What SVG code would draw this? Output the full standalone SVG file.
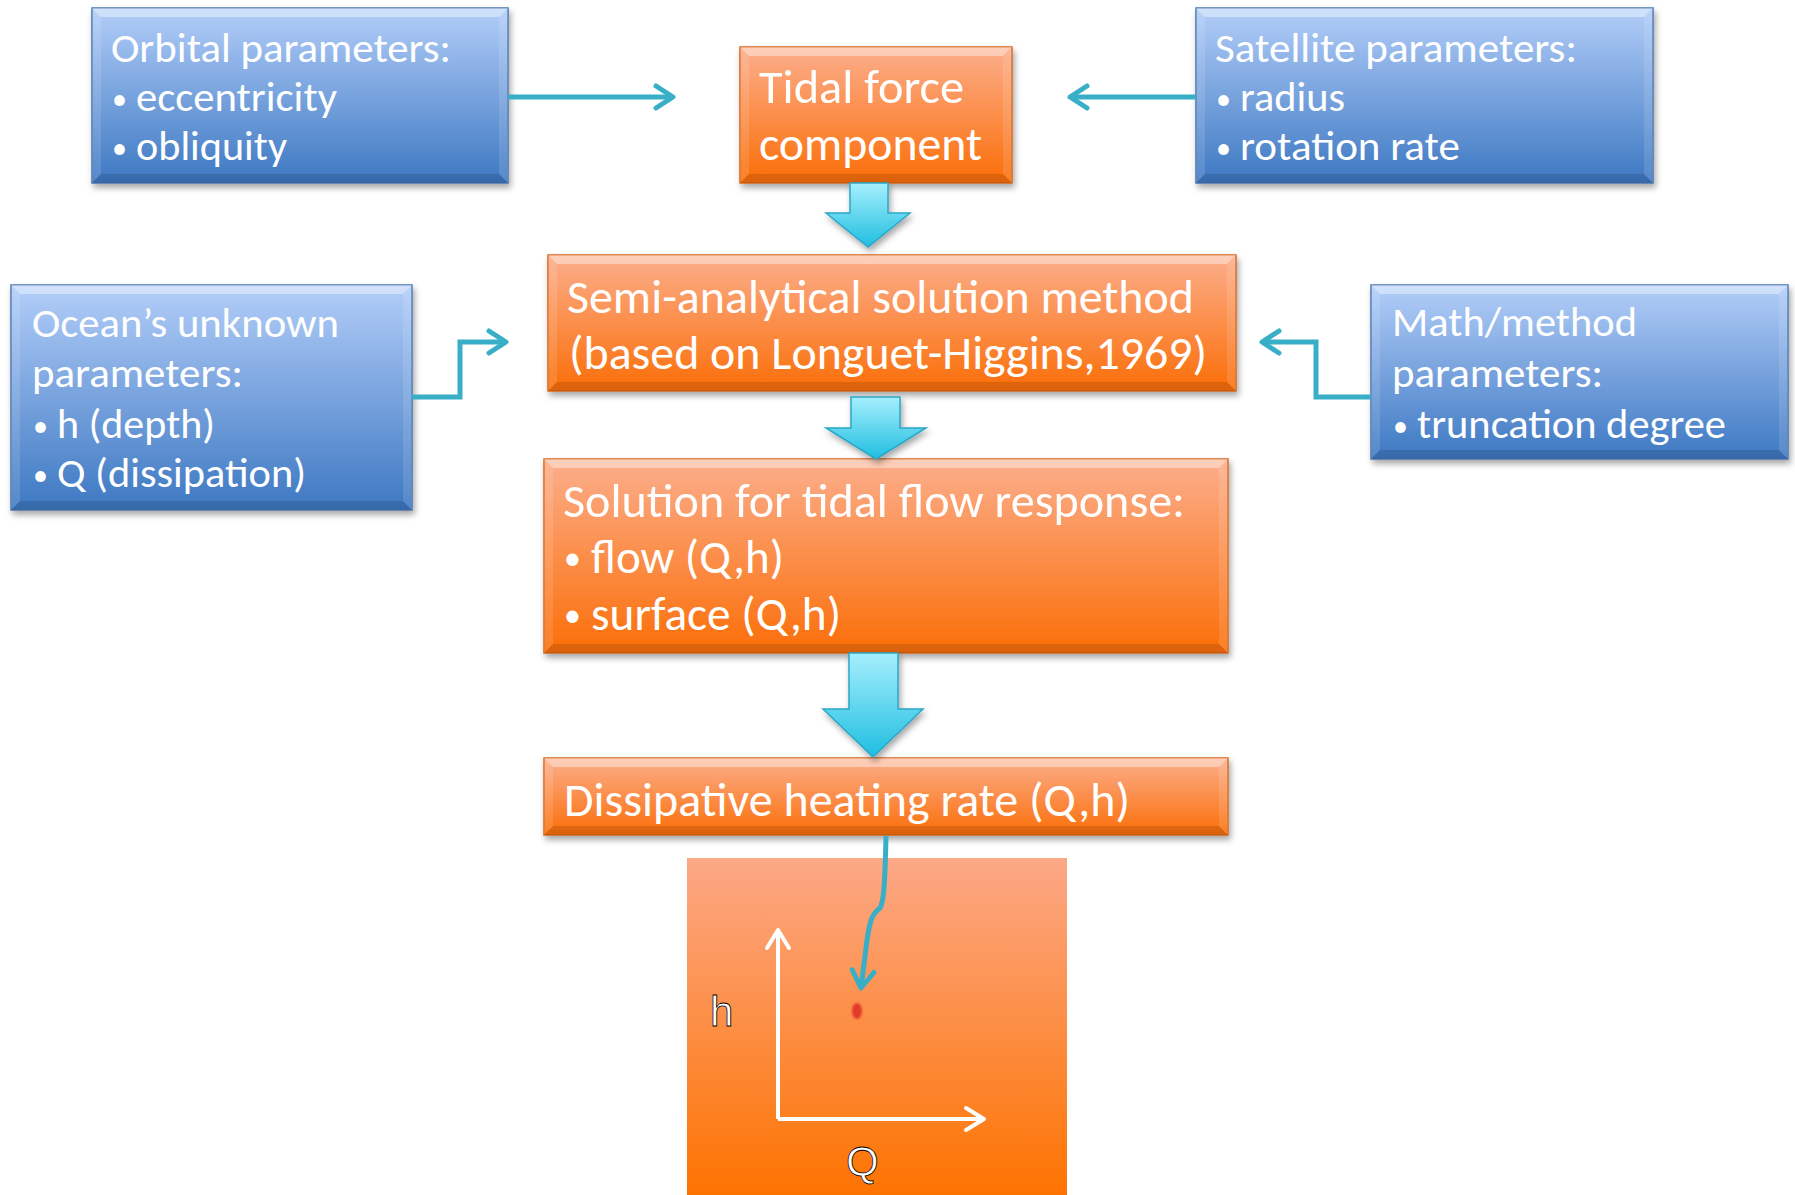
<svg xmlns="http://www.w3.org/2000/svg" width="1795" height="1195" viewBox="0 0 1795 1195">
<defs>
<linearGradient id="gBlue" x1="0" y1="0" x2="0" y2="1"><stop offset="0" stop-color="#b3cef9"/><stop offset="1" stop-color="#3d78c2"/></linearGradient>
<linearGradient id="gOrange" x1="0" y1="0" x2="0" y2="1"><stop offset="0" stop-color="#fcae8c"/><stop offset="1" stop-color="#fb6e08"/></linearGradient>
<linearGradient id="gPlot" x1="0" y1="0" x2="0" y2="1"><stop offset="0" stop-color="#fca887"/><stop offset="1" stop-color="#fd7300"/></linearGradient>
<linearGradient id="gCyan" x1="0" y1="0" x2="0" y2="1"><stop offset="0" stop-color="#a6effd"/><stop offset="1" stop-color="#1fbee0"/></linearGradient>
<filter id="shadow" x="-10%" y="-10%" width="125%" height="130%"><feDropShadow dx="2" dy="4" stdDeviation="3" flood-color="#000" flood-opacity="0.35"/></filter>
<filter id="blurDot"><feGaussianBlur stdDeviation="1.2"/></filter>
<marker id="mTeal" markerUnits="userSpaceOnUse" markerWidth="26" markerHeight="30" viewBox="0 0 26 30" refX="22" refY="15" orient="auto"><path d="M5,4 L22,15 L5,26" fill="none" stroke="#38afc7" stroke-width="5" stroke-linecap="round" stroke-linejoin="round"/></marker>
<marker id="mWhite" markerUnits="userSpaceOnUse" markerWidth="26" markerHeight="30" viewBox="0 0 26 30" refX="22" refY="15" orient="auto"><path d="M4,4 L22,15 L4,26" fill="none" stroke="#fff" stroke-width="4" stroke-linecap="round" stroke-linejoin="round"/></marker>
</defs>
<style>
.blue{fill:url(#gBlue);stroke:#4a76b0;stroke-width:1.5;filter:url(#shadow)}
.orange{fill:url(#gOrange);stroke:#d7661c;stroke-width:1.5;filter:url(#shadow)}
.bt{fill:#fff;opacity:.4}
.bb{fill:#000;opacity:.12}
.bs{fill:#fff;opacity:.12}
.t{font-family:Calibri,Carlito,Lato,"Open Sans",sans-serif;fill:#fff}
.tb{font-size:42px}
.to{font-size:48px}
.bul{font-size:30px}
.conn{fill:none;stroke:#38afc7;stroke-width:5;stroke-linejoin:miter;marker-end:url(#mTeal)}
.block{fill:url(#gCyan);stroke:#2ba6c6;stroke-width:1.5;filter:url(#shadow)}
.axis{fill:none;stroke:#fff;stroke-width:4;marker-end:url(#mWhite)}
.ax{font-family:"Liberation Sans",Arial,sans-serif;font-size:42px;fill:#fff;stroke:#000;stroke-width:0.8}
</style>
<rect width="1795" height="1195" fill="#fff"/>

<g id="orbital">
<rect class="blue" x="92" y="8" width="416" height="175"/>
<path class="bt" d="M92,8 H508 L499,17 H101 Z"/><path class="bb" d="M92,183 H508 L499,174 H101 Z"/>
<path class="bs" d="M92,8 L101,17 V174 L92,183 Z"/><path class="bs" d="M508,8 L499,17 V174 L508,183 Z"/>
<text class="t tb" x="111" y="62" textLength="340" lengthAdjust="spacingAndGlyphs">Orbital parameters:</text>
<text class="t tb" y="111"><tspan class="bul" x="112" dy="-2">•</tspan><tspan x="136" dy="2" textLength="201" lengthAdjust="spacingAndGlyphs">eccentricity</tspan></text>
<text class="t tb" y="160"><tspan class="bul" x="112" dy="-2">•</tspan><tspan x="136" dy="2" textLength="151" lengthAdjust="spacingAndGlyphs">obliquity</tspan></text>
</g>

<g id="tidal">
<rect class="orange" x="740" y="47" width="272" height="136"/>
<path class="bt" d="M740,47 H1012 L1003,56 H749 Z"/><path class="bb" d="M740,183 H1012 L1003,174 H749 Z"/>
<path class="bs" d="M740,47 L749,56 V174 L740,183 Z"/><path class="bs" d="M1012,47 L1003,56 V174 L1012,183 Z"/>
<text class="t to" x="759" y="103" textLength="205" lengthAdjust="spacingAndGlyphs">Tidal force</text>
<text class="t to" x="759" y="160" textLength="223" lengthAdjust="spacingAndGlyphs">component</text>
</g>

<g id="satellite">
<rect class="blue" x="1196" y="8" width="457" height="175"/>
<path class="bt" d="M1196,8 H1653 L1644,17 H1205 Z"/><path class="bb" d="M1196,183 H1653 L1644,174 H1205 Z"/>
<path class="bs" d="M1196,8 L1205,17 V174 L1196,183 Z"/><path class="bs" d="M1653,8 L1644,17 V174 L1653,183 Z"/>
<text class="t tb" x="1215" y="62" textLength="362" lengthAdjust="spacingAndGlyphs">Satellite parameters:</text>
<text class="t tb" y="111"><tspan class="bul" x="1216" dy="-2">•</tspan><tspan x="1240" dy="2" textLength="105" lengthAdjust="spacingAndGlyphs">radius</tspan></text>
<text class="t tb" y="160"><tspan class="bul" x="1216" dy="-2">•</tspan><tspan x="1240" dy="2" textLength="220" lengthAdjust="spacingAndGlyphs">rotation rate</tspan></text>
</g>

<g id="semi">
<rect class="orange" x="548" y="255" width="688" height="136"/>
<path class="bt" d="M548,255 H1236 L1227,264 H557 Z"/><path class="bb" d="M548,391 H1236 L1227,382 H557 Z"/>
<path class="bs" d="M548,255 L557,264 V382 L548,391 Z"/><path class="bs" d="M1236,255 L1227,264 V382 L1236,391 Z"/>
<text class="t to" x="567" y="313" textLength="627" lengthAdjust="spacingAndGlyphs">Semi-analytical solution method</text>
<text class="t to" x="569" y="369" textLength="638" lengthAdjust="spacingAndGlyphs">(based on Longuet-Higgins,1969)</text>
</g>

<g id="ocean">
<rect class="blue" x="11" y="285" width="401" height="225"/>
<path class="bt" d="M11,285 H412 L403,294 H20 Z"/><path class="bb" d="M11,510 H412 L403,501 H20 Z"/>
<path class="bs" d="M11,285 L20,294 V501 L11,510 Z"/><path class="bs" d="M412,285 L403,294 V501 L412,510 Z"/>
<text class="t tb" x="32" y="337" textLength="307" lengthAdjust="spacingAndGlyphs">Ocean’s unknown</text>
<text class="t tb" x="32" y="387" textLength="211" lengthAdjust="spacingAndGlyphs">parameters:</text>
<text class="t tb" y="438"><tspan class="bul" x="33" dy="-2">•</tspan><tspan x="57" dy="2" textLength="158" lengthAdjust="spacingAndGlyphs">h (depth)</tspan></text>
<text class="t tb" y="487"><tspan class="bul" x="33" dy="-2">•</tspan><tspan x="57" dy="2" textLength="249" lengthAdjust="spacingAndGlyphs">Q (dissipation)</tspan></text>
</g>

<g id="math">
<rect class="blue" x="1371" y="285" width="417" height="174"/>
<path class="bt" d="M1371,285 H1788 L1779,294 H1380 Z"/><path class="bb" d="M1371,459 H1788 L1779,450 H1380 Z"/>
<path class="bs" d="M1371,285 L1380,294 V450 L1371,459 Z"/><path class="bs" d="M1788,285 L1779,294 V450 L1788,459 Z"/>
<text class="t tb" x="1392" y="336" textLength="245" lengthAdjust="spacingAndGlyphs">Math/method</text>
<text class="t tb" x="1392" y="387" textLength="211" lengthAdjust="spacingAndGlyphs">parameters:</text>
<text class="t tb" y="438"><tspan class="bul" x="1393" dy="-2">•</tspan><tspan x="1417" dy="2" textLength="309" lengthAdjust="spacingAndGlyphs">truncation degree</tspan></text>
</g>

<g id="solution">
<rect class="orange" x="544" y="459" width="684" height="194"/>
<path class="bt" d="M544,459 H1228 L1219,468 H553 Z"/><path class="bb" d="M544,653 H1228 L1219,644 H553 Z"/>
<path class="bs" d="M544,459 L553,468 V644 L544,653 Z"/><path class="bs" d="M1228,459 L1219,468 V644 L1228,653 Z"/>
<text class="t to" x="563" y="517" textLength="622" lengthAdjust="spacingAndGlyphs">Solution for tidal flow response:</text>
<text class="t to" y="573"><tspan class="bul" x="564" dy="-3" style="font-size:34px">•</tspan><tspan x="591" dy="3" textLength="193" lengthAdjust="spacingAndGlyphs">flow (Q,h)</tspan></text>
<text class="t to" y="630"><tspan class="bul" x="564" dy="-3" style="font-size:34px">•</tspan><tspan x="591" dy="3" textLength="250" lengthAdjust="spacingAndGlyphs">surface (Q,h)</tspan></text>
</g>

<g id="dissipative">
<rect class="orange" x="544" y="758" width="684" height="77"/>
<path class="bt" d="M544,758 H1228 L1219,767 H553 Z"/><path class="bb" d="M544,835 H1228 L1219,826 H553 Z"/>
<path class="bs" d="M544,758 L553,767 V826 L544,835 Z"/><path class="bs" d="M1228,758 L1219,767 V826 L1228,835 Z"/>
<text class="t to" x="564" y="816" textLength="566" lengthAdjust="spacingAndGlyphs">Dissipative heating rate (Q,h)</text>
</g>

<g id="plot">
<rect x="686" y="857" width="382" height="340" fill="url(#gPlot)" stroke="#fff" stroke-width="2"/>
<path class="axis" d="M778,1119 V930"/>
<path class="axis" d="M778,1119 H984"/>
<text class="ax" x="710" y="1026">h</text>
<text class="ax" x="846" y="1176">Q</text>
<ellipse cx="857" cy="1011" rx="5" ry="8" fill="#e23a2a" filter="url(#blurDot)"/>
</g>

<g id="connectors">
<path class="conn" d="M508,97 H673"/>
<path class="conn" d="M1196,97 H1070"/>
<path class="conn" d="M412,397 H460 V342 H506"/>
<path class="conn" d="M1371,397 H1316 V342 H1262"/>
<path class="conn" d="M886,836 C885,880 884,902 880,908 C872,914 870,920 867,940 L861,988"/>
<polygon class="block" points="850,183 888,183 888,213 910,213 868,247 826,213 850,213"/>
<polygon class="block" points="851,397 900,397 900,428 926,428 876,459 826,428 851,428"/>
<polygon class="block" points="849,653 898,653 898,709 923,709 873,757 823,709 849,709"/>
</g>
</svg>
